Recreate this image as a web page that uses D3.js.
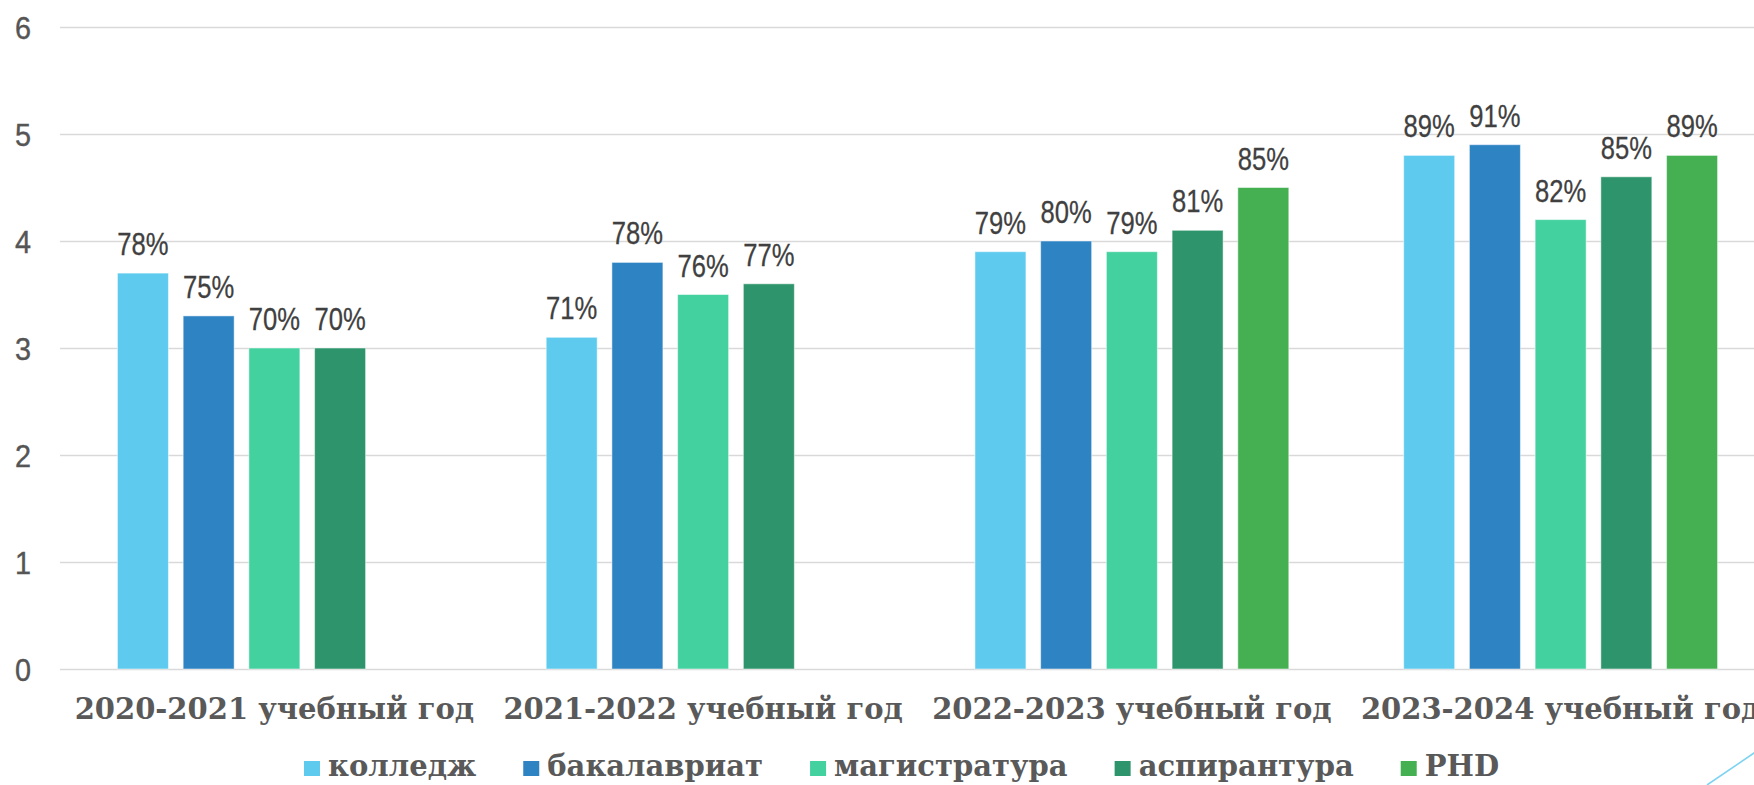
<!DOCTYPE html>
<html>
<head>
<meta charset="utf-8">
<script src="https://cdn.jsdelivr.net/npm/d3@7"></script>
<style>
  html, body { margin: 0; padding: 0; background: #ffffff; overflow: hidden; }
  svg { display: block; }
</style>
</head>
<body>
<svg id="chart" width="1754" height="785"></svg>
<script>
// ---- data ----
const categories = ["2020-2021 учебный год", "2021-2022 учебный год", "2022-2023 учебный год", "2023-2024 учебный год"];
const seriesNames = ["колледж", "бакалавриат", "магистратура", "аспирантура", "PHD"];
const seriesColors = ["#5ECBEE", "#2E83C3", "#43D1A0", "#2E946C", "#45B052"];
const kolledzh     = [3.7, 3.1, 3.9, 4.8];
const bakalavriat  = [3.3, 3.8, 4.0, 4.9];
const magistratura = [3.0, 3.5, 3.9, 4.2];
const aspirantura  = [3.0, 3.6, 4.1, 4.6];
const phd          = [null, null, 4.5, 4.8];
const kolledzhLabels     = ["78%", "71%", "79%", "89%"];
const bakalavriatLabels  = ["75%", "78%", "80%", "91%"];
const magistraturaLabels = ["70%", "76%", "79%", "82%"];
const aspiranturaLabels  = ["70%", "77%", "81%", "85%"];
const phdLabels          = [null, null, "85%", "89%"];
const yTicks = [0, 1, 2, 3, 4, 5, 6];

const seriesValues = [kolledzh, bakalavriat, magistratura, aspirantura, phd];
const seriesLabels = [kolledzhLabels, bakalavriatLabels, magistraturaLabels, aspiranturaLabels, phdLabels];

// ---- layout ----
const svg = d3.select("#chart");
const plot = { left: 60, right: 1775, top: 27, bottom: 669 };
const sansFont = "'Liberation Sans', 'Noto Sans', sans-serif";
const serifFont = "'DejaVu Serif', 'Liberation Serif', serif";

const x0 = d3.scaleBand().domain(categories).range([plot.left, plot.right]).paddingInner(0).paddingOuter(0);
const x1 = d3.scaleBand().domain(seriesNames).range([0, x0.bandwidth()]).paddingInner(0.224).paddingOuter(0.874);
const y = d3.scaleLinear().domain([0, 6]).range([plot.bottom, plot.top]);

// gridlines
const yAxis = d3.axisLeft(y).tickValues(yTicks).tickSize(-(1754 - plot.left)).tickFormat(d3.format("d"));
const gy = svg.append("g").attr("transform", `translate(${plot.left},0)`).call(yAxis);
gy.select(".domain").remove();
gy.selectAll(".tick line").attr("stroke", "#d9d9d9").attr("stroke-width", 1.6);
gy.selectAll(".tick text")
  .attr("x", null)
  .attr("dy", null)
  .attr("text-anchor", "middle")
  .attr("dominant-baseline", "central")
  .attr("transform", `translate(${23 - plot.left},0) scale(0.9,1)`)
  .attr("fill", "#555555")
  .attr("stroke", "#555555")
  .attr("stroke-width", 0.4)
  .style("font-family", sansFont)
  .style("font-size", "32px");

// bars
const cells = [];
categories.forEach((c, ci) => {
  seriesNames.forEach((s, si) => {
    const v = seriesValues[si][ci];
    if (v !== null) cells.push({ cat: c, series: s, si, value: v, label: seriesLabels[si][ci] });
  });
});

svg.append("g").selectAll("rect")
  .data(cells)
  .join("rect")
  .attr("x", d => x0(d.cat) + x1(d.series))
  .attr("y", d => y(d.value))
  .attr("width", x1.bandwidth())
  .attr("height", d => y(0) - y(d.value))
  .attr("fill", d => seriesColors[d.si])
  .attr("stroke", "#ffffff")
  .attr("stroke-opacity", 0.5)
  .attr("stroke-width", 1);

svg.append("g").selectAll("text")
  .data(cells)
  .join("text")
  .attr("transform", d => `translate(${x0(d.cat) + x1(d.series) + x1.bandwidth() / 2},${y(d.value) - 18}) scale(0.8,1)`)
  .attr("text-anchor", "middle")
  .attr("fill", "#404040")
  .attr("stroke", "#404040")
  .attr("stroke-width", 0.3)
  .style("font-family", sansFont)
  .style("font-size", "32px")
  .text(d => d.label);

// category labels
const xAxis = d3.axisBottom(x0).tickSize(0).tickPadding(0);
const gx = svg.append("g").attr("transform", `translate(0,${plot.bottom})`).call(xAxis);
gx.select(".domain").remove();
gx.selectAll(".tick text")
  .attr("y", 50)
  .attr("dy", 0)
  .attr("fill", "#595959")
  .style("font-family", serifFont)
  .style("font-weight", "bold")
  .style("font-size", "29px");

// legend
const legend = svg.append("g").attr("transform", "translate(304,776)");
let lx = 0;
seriesNames.forEach((name, i) => {
  const item = legend.append("g").attr("transform", `translate(${lx},0)`);
  item.append("rect").attr("x", 0).attr("y", -15).attr("width", 16).attr("height", 15).attr("fill", seriesColors[i]);
  const t = item.append("text")
    .attr("x", 24).attr("y", 0)
    .attr("fill", "#595959")
    .style("font-family", serifFont)
    .style("font-weight", "bold")
    .style("font-size", "29px")
    .text(name);
  lx += 24 + t.node().getComputedTextLength() + 47;
});

// decorative corner line
svg.append("line")
  .attr("x1", 1707).attr("y1", 785).attr("x2", 1760).attr("y2", 749)
  .attr("stroke", "#7FD3F0").attr("stroke-width", 1.6);
</script>
</body>
</html>
